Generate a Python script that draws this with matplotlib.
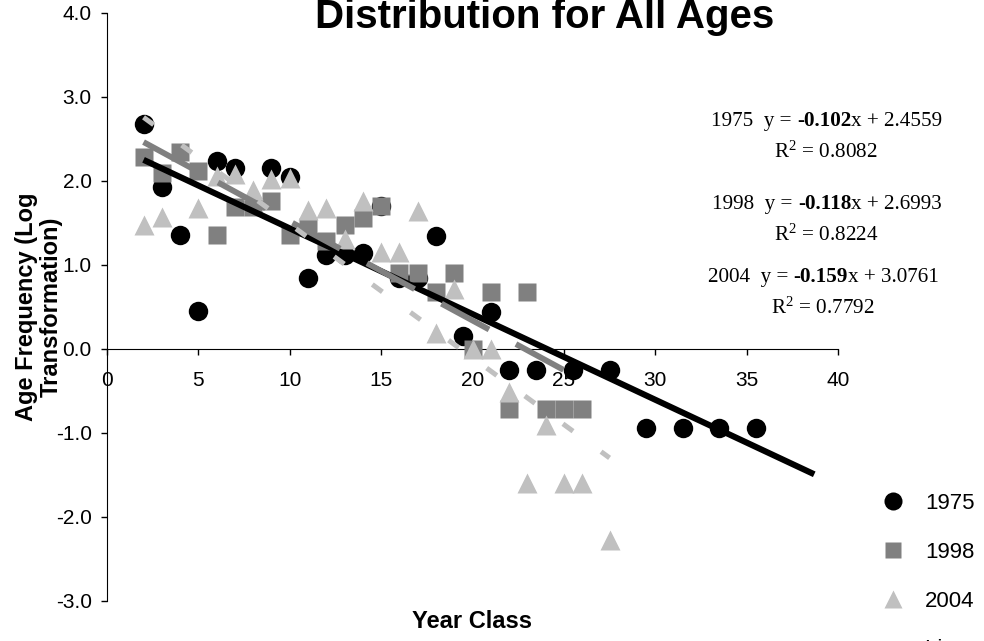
import numpy as np
import matplotlib.pyplot as plt
from matplotlib.lines import Line2D
from matplotlib.transforms import offset_copy

plt.rcParams['font.family'] = ['Liberation Sans', 'DejaVu Sans']
plt.rcParams['axes.unicode_minus'] = False
plt.rcParams['lines.scale_dashes'] = False
plt.rcParams['mathtext.fontset'] = 'custom'
plt.rcParams['mathtext.rm'] = 'Liberation Serif'
plt.rcParams['mathtext.it'] = 'Liberation Serif:italic'
plt.rcParams['mathtext.bf'] = 'Liberation Serif:bold'

## Data
x1975 = [2, 3, 4, 5, 6, 7, 9, 10, 11, 12, 13, 14, 15, 16, 17, 18, 19.5, 21, 22,
         23.5, 25.5, 27.5, 29.5, 31.5, 33.5, 35.5]
y1975 = [2.68, 1.93, 1.36, 0.45, 2.24, 2.16, 2.16, 2.05, 0.85, 1.12, 1.12, 1.14,
         1.70, 0.84, 0.84, 1.35, 0.15, 0.44, -0.25, -0.25, -0.25, -0.25, -0.94,
         -0.94, -0.94, -0.94]

x1998 = [2, 3, 4, 5, 6, 7, 8, 9, 10, 11, 12, 13, 14, 15, 16, 17, 18, 19, 20, 21,
         22, 23, 24, 25, 26]
y1998 = [2.28, 2.10, 2.34, 2.12, 1.36, 1.69, 1.69, 1.76, 1.36, 1.45, 1.28, 1.48,
         1.56, 1.70, 0.90, 0.90, 0.68, 0.90, 0.0, 0.68, -0.72, 0.68, -0.72, -0.72,
         -0.72]

x2004 = [2, 3, 5, 6, 7, 8, 9, 10, 11, 12, 13, 14, 15, 16, 17, 18, 19, 20, 21, 22,
         23, 24, 25, 26, 27.5]
y2004 = [1.48, 1.57, 1.68, 2.06, 2.08, 1.89, 2.02, 2.04, 1.66, 1.68, 1.31, 1.76,
         1.16, 1.16, 1.64, 0.19, 0.71, 0.0, 0.0, -0.51, -1.59, -0.90, -1.59, -1.59,
         -2.27]

#trendlines (slope, intercept, x range)
years = ['1975', '1998', '2004']
slopes = ['-0.102', '-0.118', '-0.159']
intercepts = ['2.4559', '2.6993', '3.0761']
r2 = ['0.8082', '0.8224', '0.7792']
fitStart = [2, 2, 2]
fitEnd = [38.7, 26, 27.5]

xticks = [0, 5, 10, 15, 20, 25, 30, 35, 40]
yticks = [-3, -2, -1, 0, 1, 2, 3, 4]

## Figure
fig = plt.figure(figsize=(9.84, 6.41), dpi=100)
ax = fig.add_axes([107/984, 40/641, 731/984, 588/641])

ax.plot(x1975, y1975, 'o', color='black', ms=14, mec='none', zorder=3)
ax.plot(x1998, y1998, 's', color='#808080', ms=12.5, mec='none', zorder=4)
ax.plot(x2004, y2004, '^', color='#c0c0c0', ms=14.5, mec='none', zorder=5)

lineCol = ['black', '#808080', '#c0c0c0']
lineW = [4.4, 4.2, 3.6]
lineDash = [None, (0, (39, 22)), (0, (9, 25))]
for i in range(3):
    xs = np.array([fitStart[i], fitEnd[i]])
    ys = float(slopes[i]) * xs + float(intercepts[i])
    ln, = ax.plot(xs, ys, color=lineCol[i], lw=lineW[i], solid_capstyle='butt',
                  dash_capstyle='butt', zorder=6 + i, clip_on=False)
    if lineDash[i] is not None:
        ln.set_linestyle(lineDash[i])

ax.set_xlim(0, 40)
ax.set_ylim(-3, 4)
ax.set_xticks(xticks)
ax.set_yticks(yticks)
ax.set_yticklabels(['%.1f' % v for v in yticks])
ax.spines['top'].set_visible(False)
ax.spines['right'].set_visible(False)
ax.spines['bottom'].set_position(('data', 0))
ax.set_axisbelow(True)
ax.tick_params(axis='x', direction='out', length=4, width=1, pad=11.5, labelsize=15)
ax.tick_params(axis='y', direction='out', length=4, width=1, pad=7, labelsize=15)

ax.set_xlabel('Year Class', fontsize=17, fontweight='bold')
ax.xaxis.set_label_coords(0.5, (601 - 622) / 588)
ax.xaxis.label.set_va('center')
ax.set_ylabel('Age Frequency (Log\nTransformation)', fontsize=17, fontweight='bold',
              linespacing=1.1)
ax.yaxis.set_label_coords((39 - 107) / 731, 0.5)
ax.yaxis.label.set_va('center')

fig.text(545/984, (641 - 28)/641, 'Distribution for All Ages', fontsize=29,
         fontweight='bold', ha='center', va='baseline')

#equation text, built from pieces so only the slope is bold
renderer = fig.canvas.get_renderer()
eqY = [2.649, 1.661, 0.792]
r2Y = [2.280, 1.292, 0.423]
eqX = [39.4, 39.4, 39.2]
serif = 'Liberation Serif'
for i in range(3):
    pieces = [(years[i] + '  y = ', 'normal'), (slopes[i], 'bold'),
              ('x + ' + intercepts[i], 'normal')]
    widths = []
    for s, w in pieces:
        t = ax.text(0, 0, s, family=serif, fontsize=15.2, fontweight=w)
        widths.append(t.get_window_extent(renderer).width)
        t.remove()
    off = -sum(widths) / 2
    for (s, w), wd in zip(pieces, widths):
        tr = offset_copy(ax.transData, fig=fig, x=off * 72 / 100, y=0, units='points')
        ax.text(eqX[i], eqY[i], s, family=serif, fontsize=15.2, fontweight=w,
                ha='left', va='baseline', transform=tr, clip_on=False)
        off += wd
    ax.text(eqX[i] - 0.05, r2Y[i], 'R$^2$ = ' + r2[i], family=serif,
            fontsize=15.2, ha='center', va='baseline', clip_on=False)

#legend
handles = [Line2D([], [], ls='none', marker='o', color='black', ms=13, mec='none'),
           Line2D([], [], ls='none', marker='s', color='#808080', ms=12, mec='none'),
           Line2D([], [], ls='none', marker='^', color='#c0c0c0', ms=13, mec='none'),
           Line2D([], [], color='black', lw=4.4)]
fig.legend(handles, years + ['Linear (1975)'], loc='upper left',
           bbox_to_anchor=(877/984, (641 - 493)/641), frameon=False, fontsize=16,
           handlelength=1.4, handletextpad=0.75, labelspacing=1.25, borderpad=0,
           borderaxespad=0)

fig.savefig('out.png', dpi=100)
